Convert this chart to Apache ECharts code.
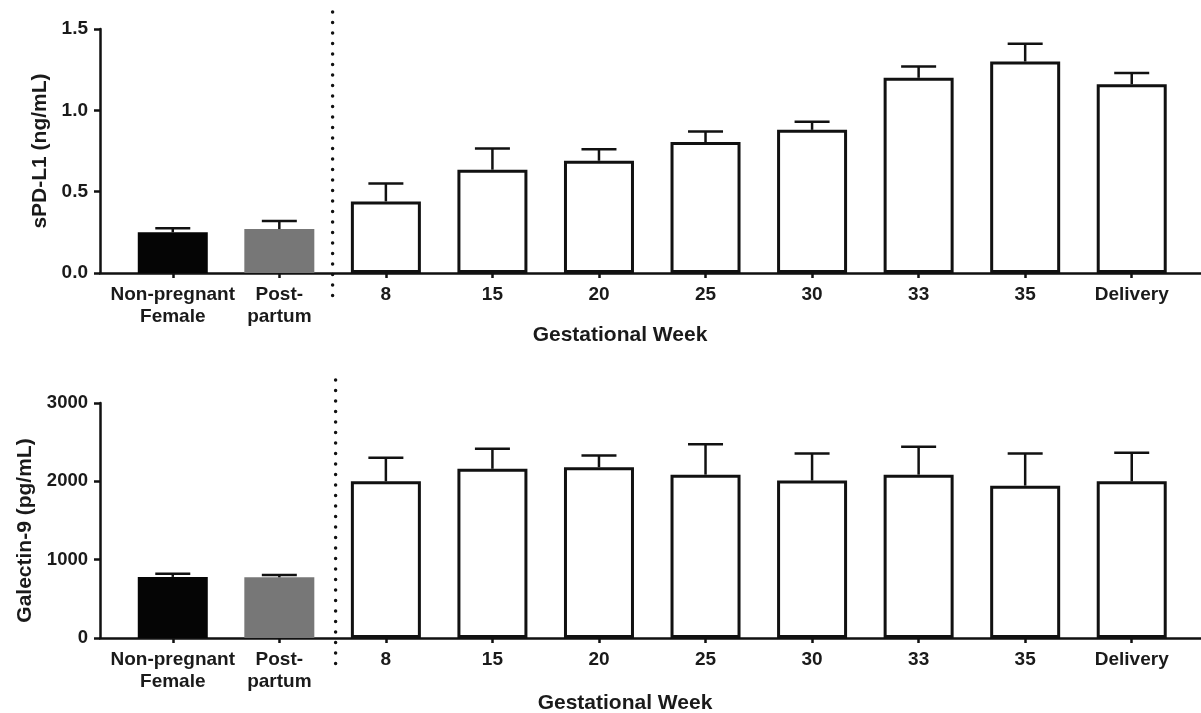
<!DOCTYPE html>
<html>
<head>
<meta charset="utf-8">
<script src="https://cdn.jsdelivr.net/npm/echarts@6/dist/echarts.min.js"></script>
<style>
  html, body { margin: 0; padding: 0; background: #fff; }
  #main { width: 1201px; height: 713px; }
</style>
</head>
<body>
<div id="main"></div>
<script>
// groups on the x axis
const groups = ['Non-pregnant\nFemale', 'Post-\npartum', '8', '15', '20', '25', '30', '33', '35', 'Delivery']

// sPD-L1 (ng/mL): mean and upper error (SEM)
const pdl1Mean = [0.25, 0.27, 0.44, 0.635, 0.69, 0.805, 0.88, 1.2, 1.3, 1.16]
const pdl1Err = [0.025, 0.05, 0.11, 0.13, 0.07, 0.065, 0.05, 0.07, 0.11, 0.07]

// Galectin-9 (pg/mL): mean and upper error (SEM)
const gal9Mean = [780, 775, 2000, 2160, 2180, 2085, 2010, 2085, 1945, 2000]
const gal9Err = [40, 30, 300, 255, 150, 390, 345, 355, 410, 365]

const font = '"Liberation Sans", Arial, Helvetica, sans-serif'
const ink = '#111'
const fills = ['#050505', '#777777']

const chart = echarts.init(document.getElementById('main'))

// bar data, first two groups are filled, the rest are open bars
function barData(means) {
  return means.map((v, i) => ({
    value: v,
    itemStyle: i < 2
      ? { color: fills[i], borderWidth: 0 }
      : { color: '#fff', borderColor: ink, borderWidth: 3 }
  }))
}

// error bar only goes up
function errRender(params, api) {
  const x = api.value(0)
  const top = api.coord([x, api.value(1) + api.value(2)])
  const base = api.coord([x, api.value(1)])
  const half = 17.5
  return {
    type: 'group',
    children: [
      { type: 'line', shape: { x1: base[0], y1: base[1], x2: top[0], y2: top[1] }, style: { stroke: ink, lineWidth: 2.5 } },
      { type: 'line', shape: { x1: top[0] - half, y1: top[1], x2: top[0] + half, y2: top[1] }, style: { stroke: ink, lineWidth: 2.5 } }
    ]
  }
}

function frameX(grid) {
  return {
    gridIndex: grid, type: 'value', min: 0, max: 1,
    axisLine: { show: true, lineStyle: { color: ink, width: 2.5 } },
    axisTick: { show: false }, axisLabel: { show: false }, splitLine: { show: false }
  }
}

function catX(grid) {
  return {
    gridIndex: grid, type: 'category', data: groups,
    axisLine: { show: false },
    axisTick: { show: true, alignWithLabel: true, length: 5, lineStyle: { color: ink, width: 2.5 } },
    axisLabel: { color: '#1a1a1a', fontFamily: font, fontWeight: 'bold', fontSize: 19, lineHeight: 22, margin: 11, interval: 0 }
  }
}

function frameY(grid, max, step, name, gap, digits, pad, size) {
  return {
    gridIndex: grid, type: 'value', min: 0, max: max, interval: step,
    name: name, nameLocation: 'middle', nameGap: gap,
    nameTextStyle: { color: '#1a1a1a', fontFamily: font, fontWeight: 'bold', fontSize: 21, padding: pad },
    axisLine: { show: true, lineStyle: { color: ink, width: 2.5 } },
    axisTick: { show: true, length: 6, lineStyle: { color: ink, width: 2.5 } },
    axisLabel: { color: '#1a1a1a', fontFamily: font, fontWeight: 'bold', fontSize: size, margin: 12, formatter: (v) => v.toFixed(digits) },
    splitLine: { show: false }
  }
}

function hiddenY(grid, max) {
  return { gridIndex: grid, type: 'value', min: 0, max: max, show: false, splitLine: { show: false } }
}

const option = {
  backgroundColor: '#fff',
  animation: false,
  title: [
    { text: 'Gestational Week', left: 615, top: 320, textAlign: 'center', textStyle: { color: '#1a1a1a', fontFamily: font, fontWeight: 'bold', fontSize: 21 } },
    { text: 'Gestational Week', left: 620, top: 688, textAlign: 'center', textStyle: { color: '#1a1a1a', fontFamily: font, fontWeight: 'bold', fontSize: 21 } }
  ],
  grid: [
    { left: 100, right: 0, top: 29, height: 244 },
    { left: 119.5, right: 16, top: 29, height: 244 },
    { left: 100, right: 0, top: 403, height: 235 },
    { left: 119.5, right: 16, top: 403, height: 235 }
  ],
  xAxis: [frameX(0), catX(1), frameX(2), catX(3)],
  yAxis: [
    frameY(0, 1.5, 0.5, 'sPD-L1 (ng/mL)', 48, 1, [0, 0, 0, 0], 19),
    hiddenY(1, 1.5),
    frameY(2, 3000, 1000, 'Galectin-9 (pg/mL)', 60, 0, [0, 20, 0, 0], 18.5),
    hiddenY(3, 3000)
  ],
  series: [
    { type: 'bar', xAxisIndex: 1, yAxisIndex: 1, barWidth: 70, data: barData(pdl1Mean) },
    { type: 'custom', xAxisIndex: 1, yAxisIndex: 1, renderItem: errRender, z: 5,
      data: pdl1Mean.map((v, i) => [i, v, pdl1Err[i]]) },
    { type: 'bar', xAxisIndex: 3, yAxisIndex: 3, barWidth: 70, data: barData(gal9Mean) },
    { type: 'custom', xAxisIndex: 3, yAxisIndex: 3, renderItem: errRender, z: 5,
      data: gal9Mean.map((v, i) => [i, v, gal9Err[i]]) }
  ]
}

chart.setOption(option)

// dotted separator between the controls and the pregnancy weeks
function divider(xIdx, yIdx, max, above, below, shift) {
  const x = (chart.convertToPixel({ xAxisIndex: xIdx }, 1) + chart.convertToPixel({ xAxisIndex: xIdx }, 2)) / 2 + shift
  const y1 = chart.convertToPixel({ yAxisIndex: yIdx }, max) - above
  const y2 = chart.convertToPixel({ yAxisIndex: yIdx }, 0) + below
  return {
    type: 'line', shape: { x1: x, y1: y1, x2: x, y2: y2 },
    style: { stroke: ink, lineWidth: 3.5, lineDash: [0, 10.5], lineCap: 'round' }, z: 10
  }
}

chart.setOption({
  graphic: [divider(1, 1, 1.5, 17, 24, 0), divider(3, 3, 3000, 23, 30, 3)]
})
</script>
</body>
</html>
